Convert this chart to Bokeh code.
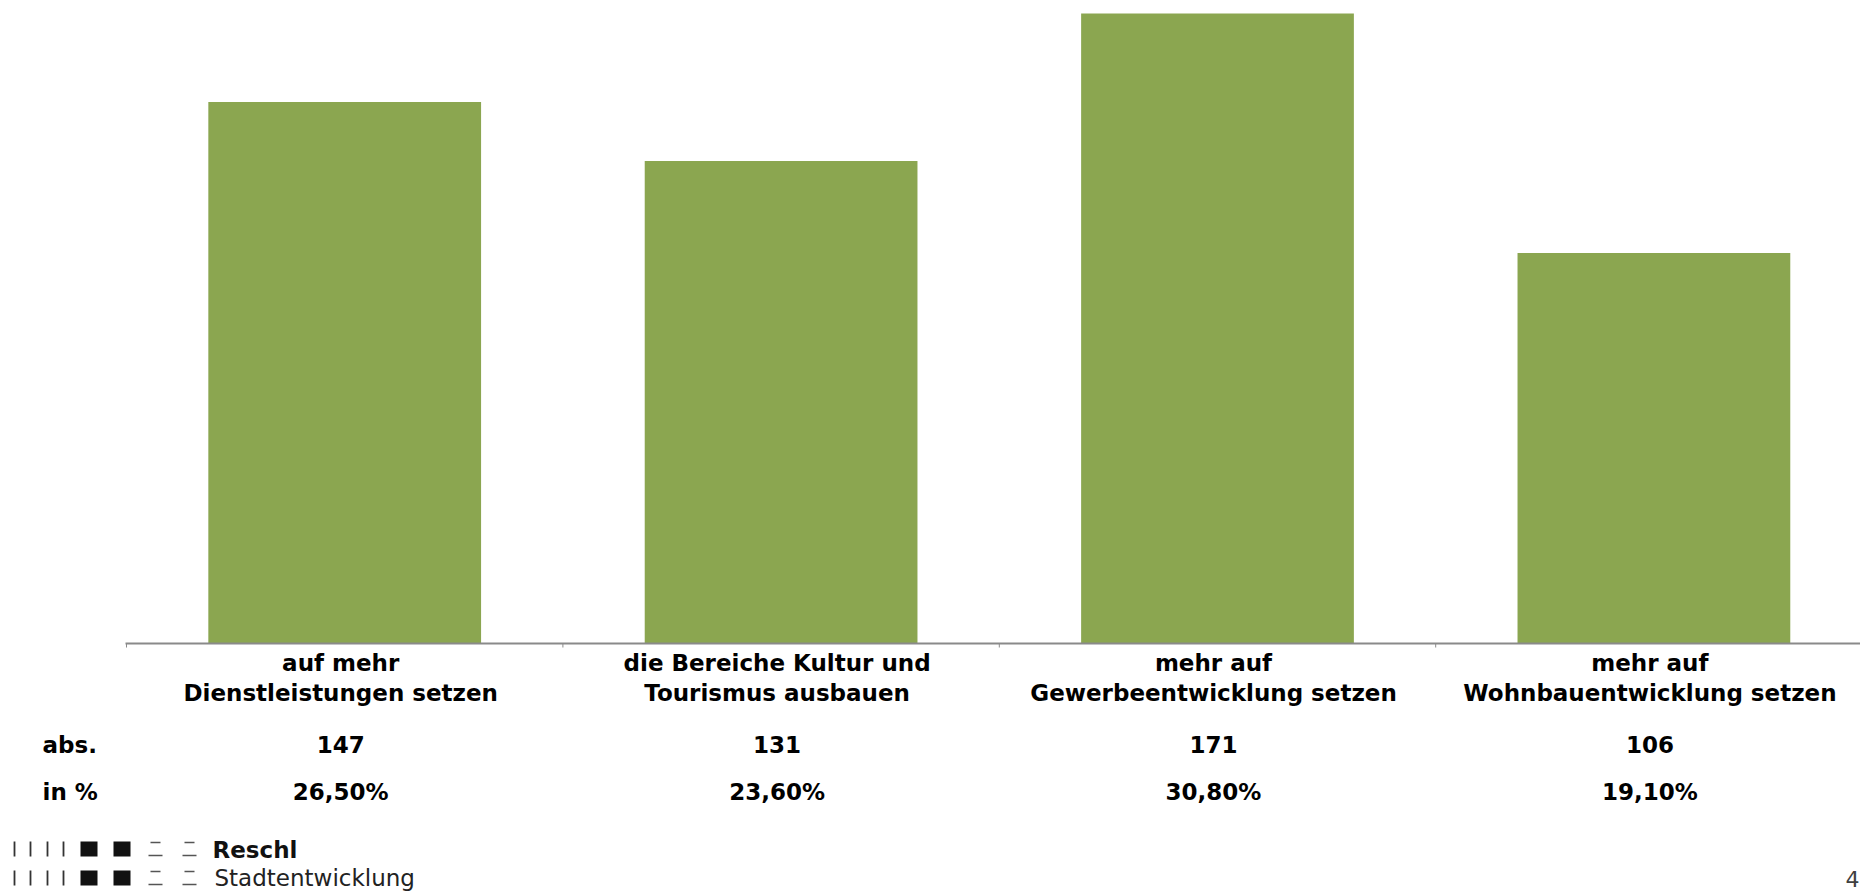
from bokeh.plotting import figure
from bokeh.models import Range1d
from bokeh.embed import file_html
from bokeh.resources import INLINE
from bokeh.core.properties import value

# ---------------- data ----------------
categories = [
    "auf mehr\nDienstleistungen setzen",
    "die Bereiche Kultur und\nTourismus ausbauen",
    "mehr auf\nGewerbeentwicklung setzen",
    "mehr auf\nWohnbauentwicklung setzen",
]
abs_values = [147, 131, 171, 106]
pct_labels = ["26,50%", "23,60%", "30,80%", "19,10%"]
row_labels = ["abs.", "in %"]
logo_lines = ["Reschl", "Stadtentwicklung"]
page_number = "4"

# ---------------- layout helpers (page pixels -> data units) ----------------
W, H = 1860, 893
MARGIN = 0
PX_PER_CAT = 436.4      # horizontal pixels per category slot
PX_PER_UNIT = 3.684     # vertical pixels per value unit
X0_PAGE = 126           # page x of category slot 0 left edge
Y0_PAGE = 643           # page y of value 0 (baseline)


def dx(px):
    return (px - X0_PAGE) / PX_PER_CAT


def dy(py):
    return (Y0_PAGE - py) / PX_PER_UNIT


FONT = value("DejaVu Sans")
BAR_COLOR = "#8BA650"
AXIS_COLOR = "#8A8A8A"
TEXT_COLOR = "#000000"

p = figure(
    width=W, height=H,
    output_backend="svg", toolbar_location=None,
    x_range=Range1d(dx(MARGIN), dx(MARGIN + W)),
    y_range=Range1d(dy(MARGIN + H), dy(MARGIN)),
    x_axis_location=None, y_axis_location=None,
    min_border=0, outline_line_color=None,
    background_fill_color="white", border_fill_color="white",
)
p.grid.visible = False

n = len(categories)
xs = [i + 0.5 for i in range(n)]

# bars
p.vbar(x=xs, top=abs_values, bottom=0, width=0.625,
       fill_color=BAR_COLOR, line_color=None)

# category axis line + boundary ticks
p.segment(x0=[dx(125)], y0=[0], x1=[dx(MARGIN + W)], y1=[0],
          line_color=AXIS_COLOR, line_width=2)
ticks = list(range(n + 1))
p.segment(x0=ticks, y0=[0] * len(ticks), x1=ticks, y1=[dy(647)] * len(ticks),
          line_color=AXIS_COLOR, line_width=1)

# category labels (two lines)
lab_x = [x + dx(X0_PAGE - 4) for x in xs]
line1 = [c.split("\n")[0] for c in categories]
line2 = [c.split("\n")[1] for c in categories]
common = dict(text_font=FONT, text_font_style="bold", text_font_size="23px",
              text_align="center", text_baseline="middle", text_color=TEXT_COLOR)
p.text(x=lab_x, y=[dy(662)] * n, text=line1, **common)
p.text(x=lab_x, y=[dy(692)] * n, text=line2, **common)

# table rows
p.text(x=lab_x, y=[dy(744)] * n, text=[str(v) for v in abs_values], **common)
p.text(x=lab_x, y=[dy(791)] * n, text=pct_labels, **common)
left_common = dict(common)
left_common["text_align"] = "left"
p.text(x=[dx(42)] * 2, y=[dy(744), dy(791)], text=row_labels, **left_common)

# logo
for row, (top, bot) in enumerate([(841, 856), (870, 885)]):
    bar_x = [dx(v) for v in (14, 30, 47, 63)]
    p.segment(x0=bar_x, y0=[dy(top)] * 4, x1=bar_x, y1=[dy(bot)] * 4,
              line_color="#333333", line_width=1.8)
    p.quad(left=[dx(80), dx(113)], right=[dx(97), dx(130)],
           top=[dy(top)] * 2, bottom=[dy(bot)] * 2,
           fill_color="#111111", line_color=None)
    for x_a, x_b in ((148, 162), (182, 196)):
        p.segment(x0=[dx(x_a + 2), dx(x_a)], y0=[dy(top + 1), dy(bot - 1)],
                  x1=[dx(x_b - 2), dx(x_b)], y1=[dy(top + 1), dy(bot - 1)],
                  line_color="#555555", line_width=1.5)

p.text(x=[dx(212)], y=[dy(849)], text=[logo_lines[0]],
       text_font=FONT, text_font_style="bold", text_font_size="23px",
       text_align="left", text_baseline="middle", text_color="#111111")
p.text(x=[dx(214)], y=[dy(877)], text=[logo_lines[1]],
       text_font=FONT, text_font_style="normal", text_font_size="23px",
       text_align="left", text_baseline="middle", text_color="#222222")

# page number at the bottom-right edge
p.text(x=[dx(1859)], y=[dy(878)], text=[page_number],
       text_font=FONT, text_font_style="normal", text_font_size="22px",
       text_align="right", text_baseline="middle", text_color="#404040")

open("out.html", "w").write(file_html(p, INLINE))
